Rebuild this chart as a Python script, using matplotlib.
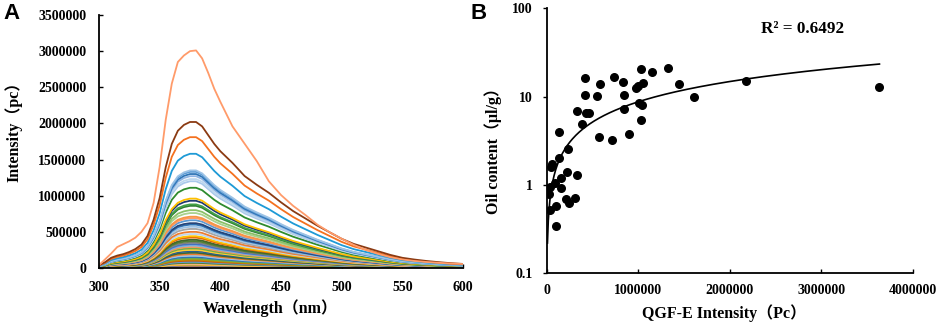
import matplotlib
matplotlib.use("Agg")
import matplotlib.pyplot as plt
import numpy as np

plt.rcParams['font.family'] = ['Liberation Serif', 'Noto Sans CJK SC', 'DejaVu Sans']
plt.rcParams['font.weight'] = 'bold'

# ---- panel A: fluorescence spectra ----
wavelength = [300, 305, 310, 315, 320, 325, 330, 335, 340, 345, 350, 355, 360, 365, 370,
              375, 380, 385, 390, 395, 400, 410, 420, 430, 440, 450, 460, 470, 480, 490,
              500, 510, 520, 530, 540, 550, 560, 570, 580, 590, 600]

# strongest sample, read point by point
top_spectrum = [40000, 120000, 200000, 290000, 330000, 370000, 420000, 500000, 620000, 900000,
                1400000, 2050000, 2550000, 2850000, 2940000, 3000000, 3010000, 2900000, 2700000,
                2480000, 2300000, 1960000, 1720000, 1480000, 1200000, 1010000, 860000, 735000,
                600000, 495000, 405000, 320000, 250000, 195000, 150000, 118000, 97000, 83000,
                72000, 62000, 55000]

# shape shared by the other samples (relative to its peak)
shape = [0.02, 0.04, 0.07, 0.085, 0.095, 0.11, 0.13, 0.16, 0.22, 0.33, 0.48, 0.69, 0.85, 0.94,
         0.98, 1.0, 1.0, 0.97, 0.91, 0.85, 0.80, 0.72, 0.63, 0.57, 0.515, 0.45, 0.39, 0.34,
         0.29, 0.245, 0.2, 0.165, 0.14, 0.115, 0.09, 0.07, 0.058, 0.048, 0.04, 0.033, 0.028]

peaks = [2020000, 1810000, 1580000, 1350000, 1330000, 1300000, 1270000, 1230000, 1200000,
         1110000, 960000, 930000, 880000, 860000, 800000, 760000, 710000, 690000, 660000,
         620000, 600000, 570000, 540000, 500000, 470000, 440000, 420000, 390000, 370000,
         350000, 330000, 310000, 290000, 270000, 250000, 230000, 210000, 190000, 170000,
         150000, 130000, 115000, 100000, 85000, 70000, 55000, 45000, 35000, 25000, 15000]

peak_colors = ['#8B3A12', '#F4711F', '#1E9AD6', '#9DC3E6', '#5B9BD5', '#2E75B6', '#8FB4E3',
               '#BDD7EE', '#A9C8EA', '#2E8B2E', '#FFC000', '#1F3A73', '#43A047', '#2F7D32',
               '#8CC168', '#A9D18E', '#F79646', '#FF9966', '#5B9BD5', '#264478', '#2E75B6',
               '#9DC3E6', '#A5A5A5', '#ED7D31', '#BDD7EE', '#FFC000', '#E46C0A', '#43682B',
               '#548235', '#7F7F7F', '#4472C4', '#7CAFDD', '#F1975A', '#70AD47', '#FFCD33',
               '#255E91', '#43682B', '#ED7D31', '#9DC3E6', '#2E75B6', '#70AD47', '#BF9000',
               '#C55A11', '#5B9BD5', '#548235', '#F4B183', '#FFC000', '#4472C4', '#ED7D31',
               '#9DC3E6']

# ---- panel B: oil content vs QGF-E intensity ----
qgf_x = [8000, 22000, 36000, 51000, 58000, 40000, 95000, 102000, 102000, 138000, 138000,
         157000, 153000, 230000, 226000, 211000, 240000, 310000, 328000, 331000, 386000,
         422000, 422000, 430000, 463000, 550000, 568000, 583000, 714000, 740000, 830000,
         841000, 849000, 900000, 976000, 995000, 1027000, 1009000, 1031000, 1038000,
         1053000, 1151000, 1330000, 1446000, 1614000, 2179000, 3636000]
oil_y = [0.86, 0.80, 0.94, 1.61, 1.73, 0.52, 1.04, 0.58, 0.34, 4.0, 2.0, 1.2, 0.93, 2.58,
         1.41, 0.69, 0.63, 0.72, 1.29, 6.9, 4.9, 16.1, 10.5, 6.5, 6.5, 10.2, 3.5, 13.9, 3.2,
         16.8, 14.5, 10.4, 7.2, 3.8, 12.4, 13.2, 20.7, 8.5, 5.5, 8.0, 14.4, 18.9, 21.3, 13.9,
         9.8, 15.2, 12.7]

fig = plt.figure(figsize=(9.41, 3.27), dpi=100)
ax1 = fig.add_axes([0.1052, 0.1804, 0.3868, 0.7737])
ax2 = fig.add_axes([0.581, 0.1642, 0.389, 0.8104])

wl = np.array(wavelength)
for pk, col in zip(peaks[::-1], peak_colors[::-1]):
	ax1.plot(wl, pk * np.array(shape), color=col, lw=1.3)
ax1.plot(wl, top_spectrum, color='#FF9B6A', lw=1.3)

ax1.set_xlim(300, 600)
ax1.set_ylim(0, 3500000)
ax1.set_xticks(range(300, 601, 50))
ax1.set_yticks(range(0, 3500001, 500000))
ax1.ticklabel_format(style='plain', axis='y')

#trend line like excel's power fit
px = np.array(qgf_x, dtype=float)
py = np.array(oil_y)
b, loga = np.polyfit(np.log(px), np.log(py), 1)
xs = np.linspace(px.min(), px.max(), 400)
ax2.plot(xs, np.exp(loga) * xs ** b, color='black', lw=1.2)
ax2.scatter(px, py, s=30, color='black', zorder=3)
ax2.set_yscale('log')
ax2.set_xlim(0, 4000000)
ax2.set_ylim(0.1, 100)
ax2.set_xticks(range(0, 4000001, 1000000))
ax2.set_yticks([0.1, 1, 10, 100])
ax2.set_yticklabels(['0.1', '1', '10', '100'])
ax2.minorticks_off()
ax2.ticklabel_format(style='plain', axis='x')
ax2.text(0.585, 0.905, 'R² = 0.6492', transform=ax2.transAxes, fontsize=12.3, fontweight='bold')

for ax in [ax1, ax2]:
	ax.spines['top'].set_visible(False)
	ax.spines['right'].set_visible(False)
	ax.spines['left'].set_linewidth(1.3)
	ax.spines['bottom'].set_linewidth(1.3)
	for lab in ax.get_xticklabels() + ax.get_yticklabels():
		lab.set_fontweight('bold')
		lab.set_fontsize(10)
ax1.tick_params(axis='both', direction='in', length=3, width=1)
ax1.tick_params(axis='y', pad=9)
ax1.tick_params(axis='x', pad=9)
ax2.tick_params(axis='x', direction='in', length=3, width=1, pad=8)
ax2.tick_params(axis='y', direction='out', length=3, width=1, pad=7)

fig.text(0.0148, 0.609, 'Intensity（pc）', rotation=90, ha='center', va='center', fontsize=11.5, fontweight='bold')
fig.text(0.287, 0.058, 'Wavelength（nm）', ha='center', va='center', fontsize=11.5, fontweight='bold')
fig.text(0.524, 0.55, 'Oil content（μl/g）', rotation=90, ha='center', va='center', fontsize=11.5, fontweight='bold')
fig.text(0.769, 0.043, 'QGF-E Intensity（Pc）', ha='center', va='center', fontsize=11.5, fontweight='bold')
fig.text(0.004, 0.99, 'A', ha='left', va='top', fontsize=16, fontweight='bold', family='Liberation Sans')
fig.text(0.5, 0.99, 'B', ha='left', va='top', fontsize=16, fontweight='bold', family='Liberation Sans')

fig.savefig('out.png', dpi=100)
